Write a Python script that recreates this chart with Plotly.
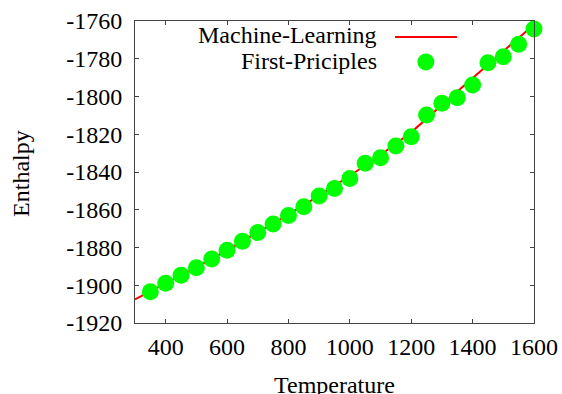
import plotly.graph_objects as go

# First-principles data (Temperature, Enthalpy)
fp_temperature = [350, 400, 450, 500, 550, 600, 650, 700, 750, 800, 850, 900, 950,
                  1000, 1050, 1100, 1150, 1200, 1250, 1300, 1350, 1400, 1450, 1500, 1550, 1600]
fp_enthalpy = [-1903.4, -1899.0, -1894.7, -1890.7, -1886.1, -1881.5, -1876.7, -1872.1, -1867.5,
               -1863.1, -1858.4, -1852.7, -1848.7, -1843.4, -1835.4, -1832.4, -1826.2, -1821.3,
               -1809.8, -1803.6, -1800.6, -1793.9, -1782.1, -1778.9, -1772.3, -1764.2]

# Machine-learning prediction curve
ml_temperature = [300, 400, 500, 600, 700, 800, 900, 1000, 1100, 1200, 1300, 1400, 1500, 1600]
ml_enthalpy = [-1907.5, -1899.0, -1890.5, -1881.5, -1872.0, -1862.5, -1852.5, -1842.0,
               -1831.0, -1819.0, -1804.5, -1790.0, -1776.0, -1762.0]

x_ticks = [400, 600, 800, 1000, 1200, 1400, 1600]
x_tick_labels = ["400", "600", "800", "1000", "1200", "1400", "1600"]
y_ticks = [-1920, -1900, -1880, -1860, -1840, -1820, -1800, -1780, -1760]
y_tick_labels = ["-1920", "-1900", "-1880", "-1860", "-1840", "-1820", "-1800", "-1780", "-1760"]

FONT = "Liberation Serif"
AX = "#444444"

fig = go.Figure()
fig.add_trace(go.Scatter(x=ml_temperature, y=ml_enthalpy, mode="lines",
                         line=dict(color="#ff0000", width=2), name="Machine-Learning",
                         showlegend=False))
fig.add_trace(go.Scatter(x=fp_temperature, y=fp_enthalpy, mode="markers",
                         marker=dict(color="#00ff00", size=17, line=dict(width=0)),
                         name="First-Priciples", showlegend=False, cliponaxis=False))

# gnuplot-style legend: right-aligned text, sample to the right
fig.add_annotation(text="Machine-Learning", xref="paper", yref="paper", x=0.6115, y=0.952,
                   xanchor="right", yanchor="middle", showarrow=False,
                   font=dict(family=FONT, size=24, color="black"))
fig.add_annotation(text="First-Priciples", xref="paper", yref="paper", x=0.6115, y=0.869,
                   xanchor="right", yanchor="middle", showarrow=False,
                   font=dict(family=FONT, size=24, color="black"))
fig.add_shape(type="line", xref="paper", yref="paper", x0=0.6516, x1=0.807, y0=0.947, y1=0.947,
              line=dict(color="#ff0000", width=2))
fig.add_shape(type="circle", xref="paper", yref="paper", xsizemode="pixel", ysizemode="pixel",
              xanchor=0.729, yanchor=0.864, x0=-8.5, x1=8.5, y0=-8.5, y1=8.5,
              fillcolor="#00ff00", line=dict(width=0))

# axis titles
fig.add_annotation(text="Temperature", xref="paper", yref="paper", x=0.5, y=-0.204,
                   xanchor="center", yanchor="middle", showarrow=False,
                   font=dict(family=FONT, size=24, color="black"))
fig.add_annotation(text="Enthalpy", xref="paper", yref="paper", x=-0.286, y=0.4967,
                   xanchor="center", yanchor="middle", showarrow=False, textangle=-90,
                   font=dict(family=FONT, size=24, color="black"))

fig.update_layout(
    width=562, height=394,
    margin=dict(l=135, r=28, t=21, b=71),
    plot_bgcolor="white", paper_bgcolor="white",
    font=dict(family=FONT, size=24, color="black"),
    showlegend=False,
)
fig.update_xaxes(range=[300, 1600], tickvals=x_ticks, ticktext=x_tick_labels,
                 ticks="inside", ticklen=4, automargin=False,
                 tickcolor=AX, showline=True, linecolor=AX, linewidth=1, mirror="ticks",
                 showgrid=False, zeroline=False, ticklabelstandoff=2)
fig.update_yaxes(range=[-1920, -1760], tickvals=y_ticks, ticktext=y_tick_labels,
                 ticks="inside", ticklen=4, automargin=False,
                 tickcolor=AX, showline=True, linecolor=AX, linewidth=1, mirror="ticks",
                 showgrid=False, zeroline=False, ticklabelstandoff=7)

fig.write_html("out.html", config={"displayModeBar": False},
               post_script="document.body.style.margin='0';document.body.style.overflow='hidden';")
